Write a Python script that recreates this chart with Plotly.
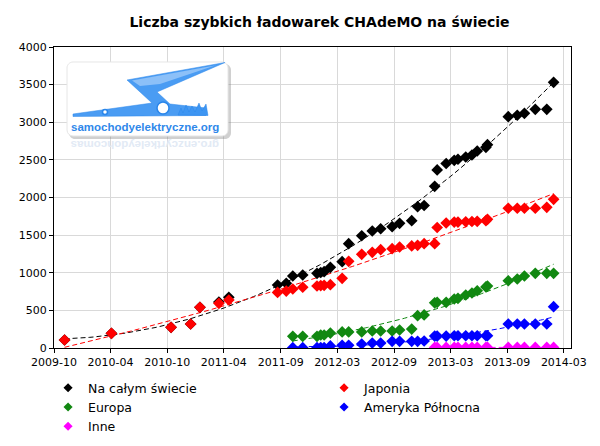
import numpy as np
import pandas as pd
import plotly.graph_objects as go

# ---------------- data ----------------
dates_early = ["2009-11-04", "2010-04-04", "2010-10-13", "2010-12-15", "2011-01-14",
               "2011-03-16", "2011-04-17"]
dates_late = ["2011-09-21", "2011-10-19", "2011-11-09", "2011-12-11", "2012-01-26",
              "2012-02-07", "2012-02-18", "2012-03-09", "2012-04-16", "2012-05-07",
              "2012-06-18", "2012-07-22", "2012-08-18", "2012-09-24", "2012-10-18",
              "2012-11-26", "2012-12-15", "2013-01-05", "2013-02-08", "2013-02-16",
              "2013-03-17", "2013-04-12", "2013-04-24", "2013-05-19", "2013-06-08",
              "2013-06-25", "2013-07-23", "2013-07-28", "2013-10-03", "2013-11-01",
              "2013-11-24", "2013-12-29", "2014-02-04", "2014-02-26"]
dates_all = dates_early + dates_late

world = [106, 195, 275, 319, 541, 611, 674,
         837, 860, 957, 970, 993, 1003, 1014, 1072, 1147, 1386,
         1492, 1555, 1585, 1612, 1657, 1692, 1878, 1894, 2149, 2366,
         2452, 2494, 2508, 2538, 2565, 2618, 2667, 2702, 3074, 3093,
         3119, 3172, 3172, 3531]
japan = [106, 195, 275, 319, 541, 594, 638,
         738, 757, 784, 807, 824, 830, 833, 841, 926, 1152,
         1245, 1272, 1306, 1320, 1342, 1356, 1365, 1386, 1386, 1601,
         1661, 1674, 1674, 1678, 1681, 1684, 1692, 1710, 1857, 1857,
         1857, 1857, 1870, 1976]

dates_eu = dates_late[2:]
europe = [155, 155, 155, 173, 173, 199, 213, 213, 213, 226, 226, 226, 239, 252,
          429, 439, 600, 607, 607, 651, 660, 704, 731, 761, 811, 824,
          894, 917, 957, 993, 993, 993]
namerica = [4, 4, 4, 4, 4, 27, 36, 36, 53, 66, 66, 89, 89, 89,
            89, 93, 159, 159, 159, 163, 163, 163, 163, 163, 163, 163,
            319, 319, 319, 319, 319, 549]

dates_other = dates_late[18:]
other = [8, 8, 8, 8, 8, 8, 8, 8, 8, 8, 8, 8, 8, 8, 8, 8]

tick_vals = ["2009-10-01", "2010-04-01", "2010-10-01", "2011-04-01", "2011-10-01",
             "2012-03-31", "2012-09-30", "2013-03-31", "2013-09-30", "2014-03-31"]
tick_text = ["2009-10", "2010-04", "2010-10", "2011-04", "2011-09",
             "2012-03", "2012-09", "2013-03", "2013-09", "2014-03"]
y_ticks = [0, 500, 1000, 1500, 2000, 2500, 3000, 3500, 4000]

series = [
    ("Na całym świecie", dates_all, world, "#000000", 2),
    ("Japonia", dates_all, japan, "#ff0000", 2),
    ("Europa", dates_eu, europe, "#118811", 2),
    ("Ameryka Północna", dates_eu, namerica, "#0000ff", 2),
    ("Inne", dates_other, other, "#ff00ff", 1),
]

# ---------------- figure ----------------
W, H = 600, 446
L, R, T, B = 54, 571, 47, 348

fig = go.Figure()

# trend lines (polynomial fit of each series)
for name, d, v, col, deg in series:
    t = pd.to_datetime(pd.Series(d))
    days = (t - t.iloc[0]).dt.days.to_numpy(dtype=float)
    coef = np.polyfit(days, np.asarray(v, dtype=float), deg)
    dd = np.linspace(days[0], days[-1], 120)
    fit = np.polyval(coef, dd)
    fx = t.iloc[0] + pd.to_timedelta(dd, unit="D")
    fig.add_trace(go.Scatter(x=fx, y=fit, mode="lines", showlegend=False,
                             hoverinfo="skip",
                             line=dict(color=col, width=1, dash="5px,3px")))

# data points
for name, d, v, col, deg in series:
    fig.add_trace(go.Scatter(x=d, y=v, mode="markers", name=name, showlegend=False,
                             marker=dict(symbol="diamond", size=9, color=col,
                                         line=dict(width=0))))
# legend entries (small markers)
for name, d, v, col, deg in series:
    fig.add_trace(go.Scatter(x=[None], y=[None], mode="markers", name=name,
                             marker=dict(symbol="diamond", size=7, color=col,
                                         line=dict(width=0))))


def px(x):
    return (x - L) / (R - L)


def py(y):
    return (B - y) / (B - T)


def pts(lst):
    return " ".join(("M" if i == 0 else "L") + f"{px(x):.5f},{py(y):.5f}"
                    for i, (x, y) in enumerate(lst)) + " Z"


def rrect(x0, y0, x1, y1, r):
    k = 0.45
    s = f"M{px(x0 + r):.5f},{py(y0):.5f} L{px(x1 - r):.5f},{py(y0):.5f} "
    s += f"C{px(x1 - r * k):.5f},{py(y0):.5f} {px(x1):.5f},{py(y0 + r * k):.5f} {px(x1):.5f},{py(y0 + r):.5f} "
    s += f"L{px(x1):.5f},{py(y1 - r):.5f} "
    s += f"C{px(x1):.5f},{py(y1 - r * k):.5f} {px(x1 - r * k):.5f},{py(y1):.5f} {px(x1 - r):.5f},{py(y1):.5f} "
    s += f"L{px(x0 + r):.5f},{py(y1):.5f} "
    s += f"C{px(x0 + r * k):.5f},{py(y1):.5f} {px(x0):.5f},{py(y1 - r * k):.5f} {px(x0):.5f},{py(y1 - r):.5f} "
    s += f"L{px(x0):.5f},{py(y0 + r):.5f} "
    s += f"C{px(x0):.5f},{py(y0 + r * k):.5f} {px(x0 + r * k):.5f},{py(y0):.5f} {px(x0 + r):.5f},{py(y0):.5f} Z"
    return s


shapes = []
# logo shadow and box
shapes.append(dict(type="path", xref="paper", yref="paper", path=rrect(69, 64, 231, 139, 6),
                   fillcolor="rgba(120,120,120,0.35)", line=dict(width=0), layer="above"))
shapes.append(dict(type="path", xref="paper", yref="paper", path=rrect(67, 62, 228, 136, 6),
                   fillcolor="#ffffff", line=dict(color="#e6e6e6", width=1), layer="above"))
# lightning bolt (two tones to mimic the gradient)
bolt = [(73, 114), (152, 103), (127, 80), (225, 62.5), (157, 92), (170, 104),
        (206, 108), (206, 115.5), (73, 116.5)]
shapes.append(dict(type="path", xref="paper", yref="paper", path=pts(bolt),
                   fillcolor="#4a9cf3", line=dict(color="#2a86ea", width=0.5), layer="above"))
bolt_hi = [(132, 80.5), (215, 65.5), (160, 84), (140, 86)]
shapes.append(dict(type="path", xref="paper", yref="paper", path=pts(bolt_hi),
                   fillcolor="#8cc0f8", line=dict(width=0), layer="above"))
# wheels
for (cx, cy, r) in [(163, 108, 6), (105, 112, 2.5)]:
    shapes.append(dict(type="circle", xref="paper", yref="paper",
                       x0=px(cx - r), x1=px(cx + r), y0=py(cy + r), y1=py(cy - r),
                       fillcolor="#ffffff", line=dict(color="#2a86ea", width=1.5),
                       layer="above"))
# flames
flames = [(178, 115), (181, 108), (183, 113), (186, 105), (189, 112), (192, 106),
          (195, 112), (199, 103), (202, 111), (206, 104), (208, 115.5)]
shapes.append(dict(type="path", xref="paper", yref="paper", path=pts(flames),
                   fillcolor="#3d95f2", line=dict(color="#2a86ea", width=0.5), layer="above"))

annotations = [
    dict(text="samochodyelektryczne.org", xref="paper", yref="paper",
         x=px(145), y=py(126.5), showarrow=False, xanchor="center", yanchor="middle",
         font=dict(family="Liberation Sans", size=11.5, color="#2f88ea", weight="bold")),
    dict(text="gro.enzcyrtkeleydohcomas", xref="paper", yref="paper",
         x=px(145), y=py(145), showarrow=False, xanchor="center", yanchor="middle",
         textangle=180,
         font=dict(family="Liberation Sans", size=11.5, color="#e2eaf5", weight="bold")),
]

fig.update_layout(
    width=W, height=H,
    margin=dict(l=L, r=W - R, t=T, b=H - B, pad=0, autoexpand=False),
    paper_bgcolor="#ffffff", plot_bgcolor="#ffffff",
    font=dict(family="DejaVu Sans", size=11, color="#000000"),
    title=dict(text="<b>Liczba szybkich ładowarek CHAdeMO na świecie</b>",
               x=319.5 / W, xref="container", xanchor="center",
               y=1 - 22 / H, yref="container", yanchor="middle",
               font=dict(family="DejaVu Sans", size=14, color="#000000")),
    xaxis=dict(type="date", range=["2009-10-01", "2014-04-23"],
               tickvals=tick_vals, ticktext=tick_text,
               showgrid=True, gridcolor="#d9d9d9", gridwidth=1,
               showline=True, linecolor="#000000", linewidth=1, mirror=True,
               ticks="outside", ticklen=4, tickcolor="#000000",
               tickfont=dict(family="DejaVu Sans", size=11, color="#000000"),
               zeroline=False),
    yaxis=dict(range=[0, 4000], tickvals=y_ticks,
               showgrid=True, gridcolor="#d9d9d9", gridwidth=1,
               showline=True, linecolor="#000000", linewidth=1, mirror=True,
               ticks="outside", ticklen=4, tickcolor="#000000",
               tickfont=dict(family="DejaVu Sans", size=11, color="#000000"),
               zeroline=False),
    legend=dict(orientation="h", x=-0.0115, y=-0.0835, xanchor="left", yanchor="top",
                entrywidth=231, entrywidthmode="pixels",
                font=dict(family="DejaVu Sans", size=12.5, color="#000000"),
                bgcolor="rgba(0,0,0,0)", tracegroupgap=0),
    shapes=shapes,
    annotations=annotations,
    showlegend=True,
)

fig.write_html("out.html")
